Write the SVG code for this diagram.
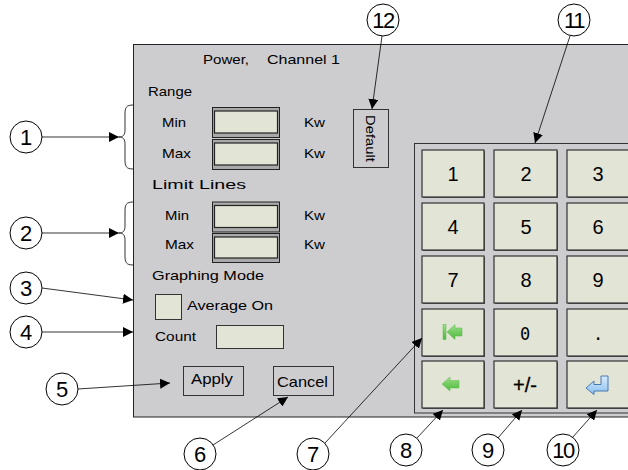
<svg xmlns="http://www.w3.org/2000/svg" width="628" height="470" viewBox="0 0 628 470">
<defs>
<marker id="ah" viewBox="0 0 10 10" refX="10" refY="5" markerWidth="10" markerHeight="10" markerUnits="userSpaceOnUse" orient="auto">
<path d="M0,0 L10,5 L0,10 z" fill="#000"/>
</marker>
<linearGradient id="gr" x1="0" y1="0" x2="0" y2="1">
<stop offset="0" stop-color="#9be08a"/>
<stop offset="1" stop-color="#4cb83a"/>
</linearGradient>
<linearGradient id="bl" x1="0" y1="0" x2="0" y2="1">
<stop offset="0" stop-color="#d6ecff"/>
<stop offset="1" stop-color="#8cc0ee"/>
</linearGradient>
</defs>
<style>
text{font-family:"Liberation Sans",Arial,sans-serif;fill:#000}
.lbl{font-size:13px}
.num{font-size:22px;text-anchor:middle}
.key{font-size:20px;text-anchor:middle}
.mono{font-family:"DejaVu Sans Mono","Liberation Mono",monospace;font-size:17px;text-anchor:middle}
.callout{fill:#fff;stroke:#000;stroke-width:1}
.conn{stroke:#000;stroke-width:0.8;fill:none;marker-end:url(#ah)}
.brace{stroke:#000;stroke-width:0.8;fill:none}
.kb{fill:#e2e4d6;stroke:#333;stroke-width:1.2}
.ks{fill:#555}
.fo{fill:#a9a9a9;stroke:#222;stroke-width:1}
.fi{fill:#e2e4d6;stroke:#222;stroke-width:1.2}
.btn{fill:#cdcdd0;stroke:#333;stroke-width:1}
</style>
<rect width="628" height="470" fill="#fff"/>
<g id="panel">
<rect x="133.5" y="44.5" width="500" height="372.5" fill="#cdcdd0" stroke="#222" stroke-width="1"/>
<text x="203" y="64" class="lbl" textLength="46" lengthAdjust="spacingAndGlyphs">Power,</text>
<text x="267" y="64" class="lbl" textLength="73" lengthAdjust="spacingAndGlyphs">Channel  1</text>
</g>
<g id="range">
<text x="148" y="96" class="lbl" textLength="44" lengthAdjust="spacingAndGlyphs">Range</text>
<text x="162" y="127" class="lbl" textLength="24" lengthAdjust="spacingAndGlyphs">Min</text>
<text x="162" y="158" class="lbl" textLength="29" lengthAdjust="spacingAndGlyphs">Max</text>
<text x="304" y="127" class="lbl" textLength="21" lengthAdjust="spacingAndGlyphs">Kw</text>
<text x="304" y="158" class="lbl" textLength="21" lengthAdjust="spacingAndGlyphs">Kw</text>
<rect x="212.5" y="107.5" width="67" height="30" class="fo"/>
<rect x="214.5" y="111" width="63" height="22" class="fi"/>
<rect x="212.5" y="139.5" width="67" height="30" class="fo"/>
<rect x="214.5" y="143" width="63" height="22" class="fi"/>
</g>
<g id="limit">
<text x="152" y="189" class="lbl" textLength="94" lengthAdjust="spacingAndGlyphs">Limit Lines</text>
<text x="165" y="220" class="lbl" textLength="24" lengthAdjust="spacingAndGlyphs">Min</text>
<text x="165" y="249" class="lbl" textLength="29" lengthAdjust="spacingAndGlyphs">Max</text>
<text x="304" y="220" class="lbl" textLength="21" lengthAdjust="spacingAndGlyphs">Kw</text>
<text x="304" y="249" class="lbl" textLength="21" lengthAdjust="spacingAndGlyphs">Kw</text>
<rect x="212.5" y="202" width="67" height="30" class="fo"/>
<rect x="214.5" y="205.5" width="63" height="22" class="fi"/>
<rect x="212.5" y="233.5" width="67" height="29" class="fo"/>
<rect x="214.5" y="237" width="63" height="21" class="fi"/>
</g>
<g id="graphing">
<text x="152" y="280" class="lbl" textLength="112" lengthAdjust="spacingAndGlyphs">Graphing Mode</text>
<rect x="155.5" y="294.5" width="26" height="25" fill="#e2e4d6" stroke="#333" stroke-width="1"/>
<text x="187" y="310" class="lbl" textLength="86" lengthAdjust="spacingAndGlyphs">Average On</text>
<text x="155" y="341" class="lbl" textLength="41" lengthAdjust="spacingAndGlyphs">Count</text>
<rect x="216.5" y="325.5" width="67" height="23" fill="#e2e4d6" stroke="#333" stroke-width="1"/>
</g>
<g id="apply">
<rect x="183.5" y="366.5" width="60" height="29" class="btn"/>
<text x="191" y="384" font-size="15" textLength="42" lengthAdjust="spacingAndGlyphs">Apply</text>
</g>
<g id="cancel">
<rect x="273.5" y="366.5" width="60" height="29" class="btn"/>
<text x="277" y="387" font-size="15" textLength="51" lengthAdjust="spacingAndGlyphs">Cancel</text>
</g>
<g id="default">
<rect x="353.5" y="109.5" width="35" height="58" class="btn"/>
<text transform="translate(366,115) rotate(90)" font-size="13" textLength="47" lengthAdjust="spacingAndGlyphs">Default</text>
</g>
<g id="keypad">
<rect x="414.5" y="143.5" width="220" height="269.5" fill="#cdcdd0" stroke="#333" stroke-width="1"/>
<g id="keys">
<rect x="423" y="151" width="62" height="47" class="ks"/><rect x="422" y="150" width="62" height="47" class="kb"/>
<rect x="495" y="151" width="63" height="47" class="ks"/><rect x="494" y="150" width="63" height="47" class="kb"/>
<rect x="568" y="151" width="63" height="47" class="ks"/><rect x="567" y="150" width="63" height="47" class="kb"/>
<rect x="423" y="204" width="62" height="47" class="ks"/><rect x="422" y="203" width="62" height="47" class="kb"/>
<rect x="495" y="204" width="63" height="47" class="ks"/><rect x="494" y="203" width="63" height="47" class="kb"/>
<rect x="568" y="204" width="63" height="47" class="ks"/><rect x="567" y="203" width="63" height="47" class="kb"/>
<rect x="423" y="257" width="62" height="47" class="ks"/><rect x="422" y="256" width="62" height="47" class="kb"/>
<rect x="495" y="257" width="63" height="47" class="ks"/><rect x="494" y="256" width="63" height="47" class="kb"/>
<rect x="568" y="257" width="63" height="47" class="ks"/><rect x="567" y="256" width="63" height="47" class="kb"/>
<rect x="423" y="310" width="62" height="47" class="ks"/><rect x="422" y="309" width="62" height="47" class="kb"/>
<rect x="495" y="310" width="63" height="47" class="ks"/><rect x="494" y="309" width="63" height="47" class="kb"/>
<rect x="568" y="310" width="63" height="47" class="ks"/><rect x="567" y="309" width="63" height="47" class="kb"/>
<rect x="423" y="362" width="62" height="47" class="ks"/><rect x="422" y="361" width="62" height="47" class="kb"/>
<rect x="495" y="362" width="63" height="47" class="ks"/><rect x="494" y="361" width="63" height="47" class="kb"/>
<rect x="568" y="362" width="63" height="47" class="ks"/><rect x="567" y="361" width="63" height="47" class="kb"/>
<text x="453" y="181" class="key">1</text>
<text x="526" y="181" class="key">2</text>
<text x="598" y="181" class="key">3</text>
<text x="453" y="234" class="key">4</text>
<text x="526" y="234" class="key">5</text>
<text x="598" y="234" class="key">6</text>
<text x="453" y="287" class="key">7</text>
<text x="526" y="287" class="key">8</text>
<text x="598" y="287" class="key">9</text>
<text x="525" y="340" class="mono">0</text>
<text x="598" y="340" class="mono">.</text>
<text x="525" y="392" class="key" font-size="18" stroke="#000" stroke-width="0.3">+/-</text>
<rect x="443" y="324.5" width="3" height="15" fill="url(#gr)" stroke="#5cb84a" stroke-width="0.5"/>
<path d="M447,332 L455,324.5 L455,328 L462,328 L462,336 L455,336 L455,339.5 Z" fill="url(#gr)" stroke="#5cb84a" stroke-width="0.5"/>
<path d="M442,384 L450,377 L450,380.5 L459,380.5 L459,388 L450,388 L450,391 Z" fill="url(#gr)" stroke="#5cb84a" stroke-width="0.5"/>
<path d="M586,388 L594,381 L594,384.5 L601,384.5 L601,376 L608,376 L608,391 L594,391 L594,394.5 Z" fill="url(#bl)" stroke="#3a6ea8" stroke-width="0.9"/>
</g>
</g>
<g id="connectors">
<path class="brace" d="M133,105 C126,105 125,108 125,114 L125,130 C125,135 123,137 119,137 C123,137 125,139 125,144 L125,160 C125,166 126,169 133,169"/>
<path class="brace" d="M133,202 C126,202 125,205 125,211 L125,226 C125,231 123,233 119,233 C123,233 125,235 125,240 L125,256 C125,262 126,265 133,265"/>
<line class="conn" x1="42" y1="137" x2="119" y2="137"/>
<line class="conn" x1="42" y1="233" x2="119" y2="233"/>
<line class="conn" x1="42" y1="288" x2="133" y2="300"/>
<line class="conn" x1="42" y1="332" x2="133" y2="332"/>
<line class="conn" x1="78" y1="389" x2="170" y2="383"/>
<line class="conn" x1="213" y1="445" x2="288" y2="397"/>
<line class="conn" x1="325" y1="443" x2="422" y2="338"/>
<line class="conn" x1="417" y1="438" x2="443" y2="410"/>
<line class="conn" x1="498" y1="438" x2="522" y2="410"/>
<line class="conn" x1="572" y1="438" x2="597" y2="410"/>
<line class="conn" x1="570" y1="36" x2="535" y2="143"/>
<line class="conn" x1="382" y1="36" x2="372" y2="109"/>
</g>
<g id="callouts">
<g id="c1"><circle cx="26" cy="137" r="16" class="callout"/><text x="26" y="145" class="num">1</text></g>
<g id="c2"><circle cx="26" cy="233" r="16" class="callout"/><text x="26" y="241" class="num">2</text></g>
<g id="c3"><circle cx="26" cy="288" r="16" class="callout"/><text x="26" y="296" class="num">3</text></g>
<g id="c4"><circle cx="26" cy="332" r="16" class="callout"/><text x="26" y="340" class="num">4</text></g>
<g id="c5"><circle cx="62" cy="389" r="16" class="callout"/><text x="62" y="397" class="num">5</text></g>
<g id="c6"><circle cx="200" cy="454" r="16" class="callout"/><text x="200" y="462" class="num">6</text></g>
<g id="c7"><circle cx="313" cy="454" r="16" class="callout"/><text x="313" y="462" class="num">7</text></g>
<g id="c8"><circle cx="406" cy="450" r="16" class="callout"/><text x="406" y="458" class="num">8</text></g>
<g id="c9"><circle cx="488" cy="450" r="16" class="callout"/><text x="488" y="458" class="num">9</text></g>
<g id="c10"><circle cx="563" cy="450" r="16" class="callout"/><text x="563" y="458" class="num" letter-spacing="-1.5">10</text></g>
<g id="c11"><circle cx="574" cy="20" r="16" class="callout"/><text x="574" y="28" class="num" letter-spacing="-1.5">11</text></g>
<g id="c12"><circle cx="383" cy="20" r="16" class="callout"/><text x="383" y="28" class="num" letter-spacing="-1.5">12</text></g>
</g>
</svg>
